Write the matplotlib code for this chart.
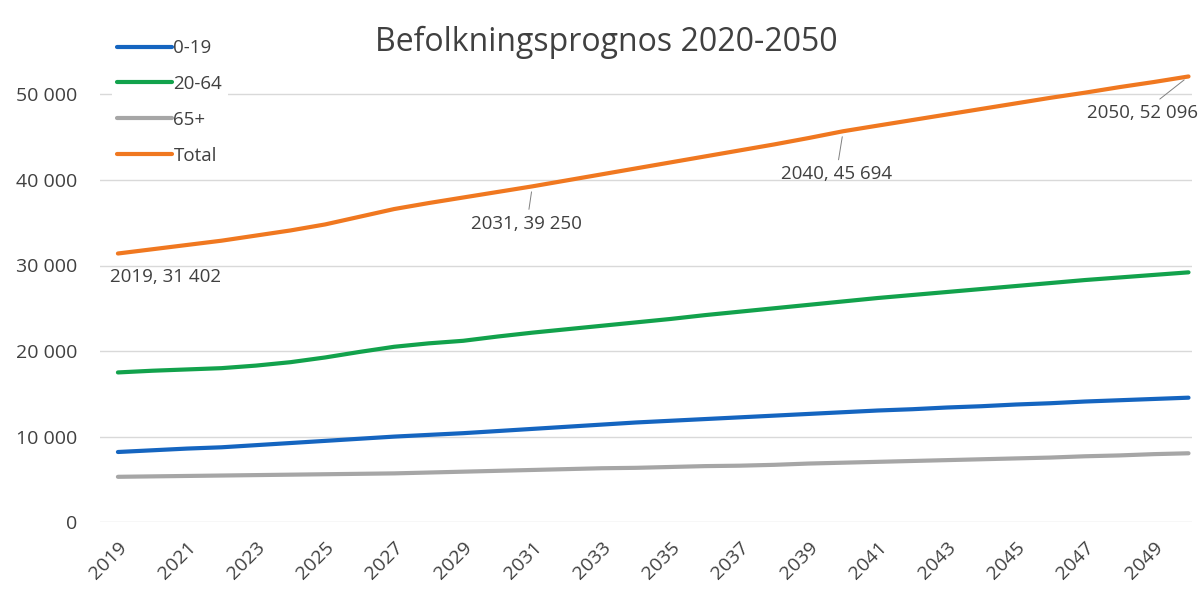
import matplotlib.pyplot as plt

# Population forecast
years = list(range(2019, 2051))
age_0_19 = [8200, 8400, 8600, 8750, 9000, 9250, 9500, 9750, 10000, 10200,
            10400, 10650, 10900, 11150, 11400, 11650, 11850, 12050, 12250, 12450,
            12650, 12850, 13050, 13200, 13400, 13550, 13750, 13900, 14100, 14250,
            14400, 14550]
age_20_64 = [17500, 17700, 17850, 18000, 18300, 18700, 19250, 19900, 20500, 20900,
             21200, 21700, 22150, 22550, 22950, 23350, 23750, 24200, 24600, 25000,
             25400, 25800, 26200, 26550, 26900, 27250, 27600, 27950, 28300, 28600,
             28900, 29200]
age_65 = [5300, 5350, 5400, 5450, 5500, 5550, 5600, 5650, 5700, 5800,
          5900, 6000, 6100, 6200, 6300, 6350, 6450, 6550, 6600, 6700,
          6850, 6950, 7050, 7150, 7250, 7350, 7450, 7550, 7700, 7800,
          7950, 8050]
total = [31402, 31900, 32400, 32900, 33500, 34100, 34800, 35700, 36600, 37300,
         37950, 38600, 39250, 39950, 40650, 41350, 42050, 42750, 43450, 44150,
         44900, 45694, 46350, 47000, 47650, 48300, 48950, 49600, 50200, 50850,
         51450, 52096]

labelled_years = [2019, 2031, 2040, 2050]
label_offsets = [(34, -17), (-4, -27), (-5, -31), (-33, -26)]
leaders = [False, True, True, True]


def sv(v):
    # Swedish style thousands separator
    return '{:,}'.format(v).replace(',', ' ')


plt.rcParams['font.family'] = ['Open Sans', 'DejaVu Sans']
txt = '#404040'

fig = plt.figure(figsize=(12, 5.9), dpi=100)
ax = fig.add_axes([0.0833, 0.115, 0.91, 0.87])

ax.plot(years, age_0_19, color='#1565C0', lw=3, label='0-19', solid_capstyle='round')
ax.plot(years, age_20_64, color='#12A24C', lw=3, label='20-64', solid_capstyle='round')
ax.plot(years, age_65, color='#A6A6A6', lw=3, label='65+', solid_capstyle='round')
ax.plot(years, total, color='#F07820', lw=3, label='Total', solid_capstyle='round')

for yr, off, lead in zip(labelled_years, label_offsets, leaders):
    val = total[years.index(yr)]
    props = None
    if lead:
        props = dict(arrowstyle='-', color='#808080', lw=0.7, shrinkA=2, shrinkB=4)
    ax.annotate('{}, {}'.format(yr, sv(val)), (yr, val), xytext=off,
                textcoords='offset points', ha='center', va='center',
                fontsize=13.5, color=txt, arrowprops=props,
                annotation_clip=False)

ax.set_xlim(2018.48, 2050.1)
ax.set_ylim(0, 60000)
yt = [0, 10000, 20000, 30000, 40000, 50000]
ax.set_yticks(yt)
ax.set_yticklabels([sv(v) for v in yt])
ax.set_xticks(years[::2])
ax.set_xticklabels([str(y) for y in years[::2]], rotation=45, ha='right',
                   rotation_mode='anchor')
ax.tick_params(axis='both', length=0, labelsize=14, colors=txt)
ax.tick_params(axis='y', pad=16)
ax.tick_params(axis='x', pad=12)
ax.grid(axis='y', color='#D9D9D9', lw=1)
ax.set_axisbelow(True)
for sp in ax.spines.values():
    sp.set_visible(False)

fig.text(0.505, 0.928, 'Befolkningsprognos 2020-2050', ha='center', va='center',
         fontsize=23, color=txt)

leg = ax.legend(loc='upper left', bbox_to_anchor=(0.002, 0.97), frameon=True,
                fontsize=13.5, handlelength=2.9, handletextpad=0.1,
                labelspacing=0.95, borderpad=0.3, labelcolor=txt)
leg.get_frame().set_edgecolor('none')
leg.get_frame().set_facecolor('white')
leg.get_frame().set_alpha(1)

fig.savefig('out.png', dpi=100, facecolor='white')
